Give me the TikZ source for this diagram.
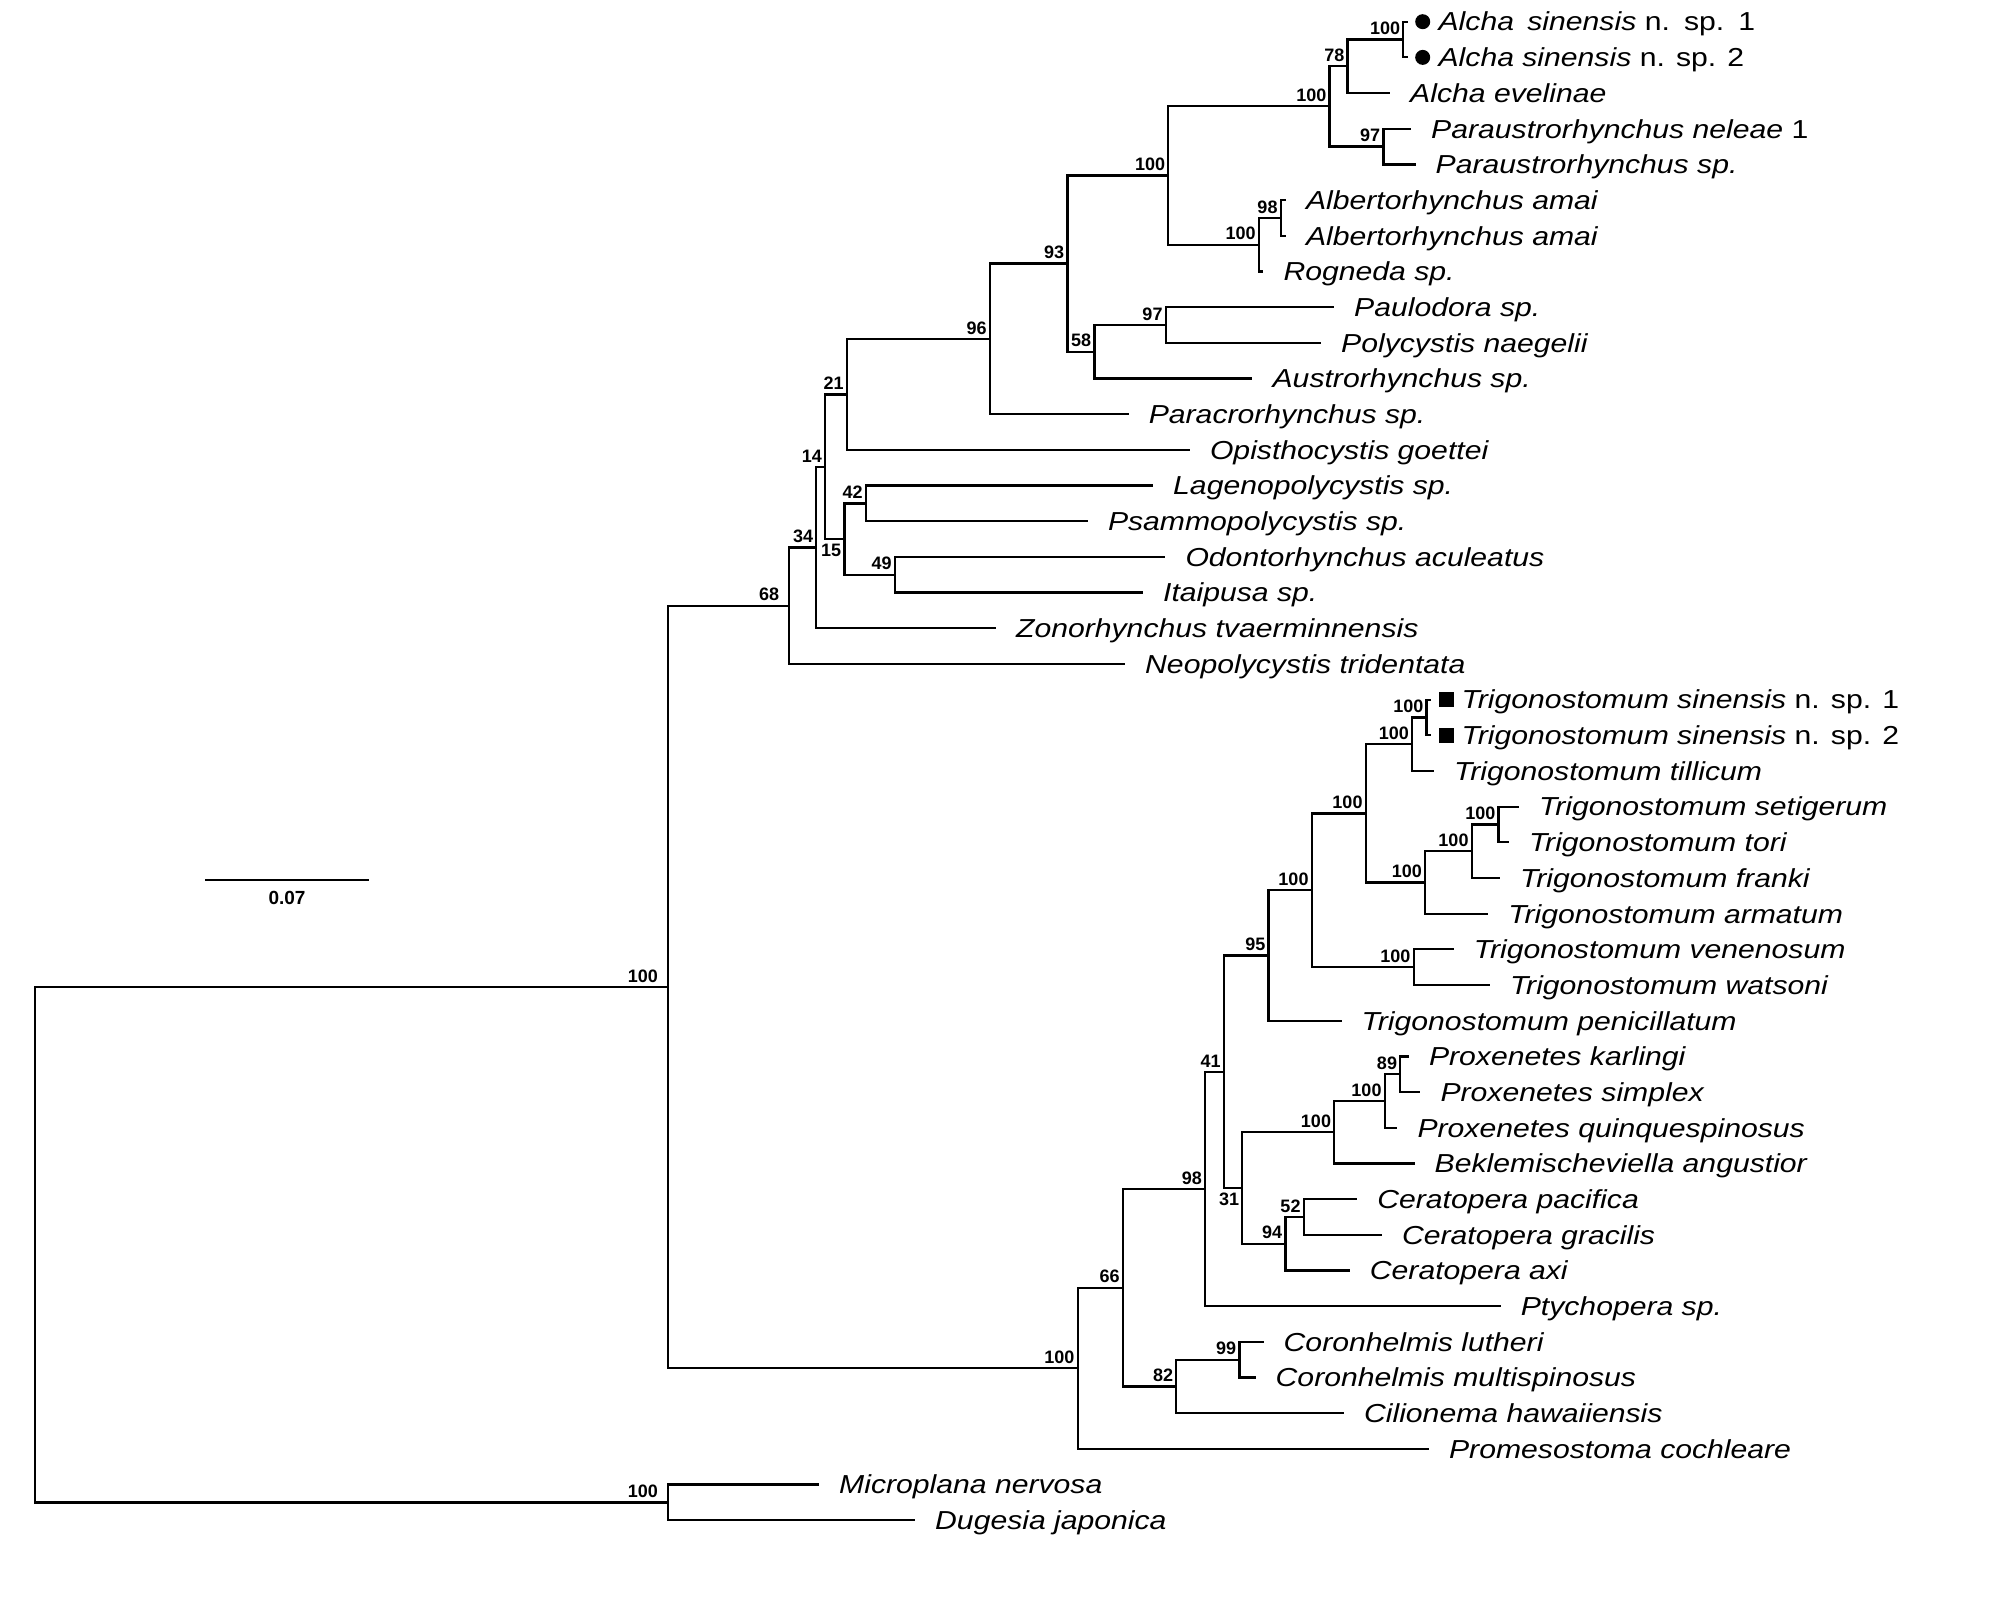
\documentclass[tikz,border=0pt]{standalone}
\usepackage{fontspec}
\setmainfont{Liberation Sans}
\newfontfamily\taxfont[FakeStretch=1.16]{Liberation Sans}
\usetikzlibrary{positioning}

\begin{document}
\begin{tikzpicture}[x=1pt,y=-1pt,
    branch/.style={line width=2.2pt},
    taxon/.style={font=\taxfont\fontsize{26}{30}\selectfont\itshape, inner sep=0pt, text height=18.6pt, text depth=0pt},
    boot/.style={font=\fontsize{18}{20}\selectfont\bfseries, anchor=south east, inner xsep=3pt, inner ysep=4.5pt},
    bootlow/.style={boot, anchor=north east},
    dotmark/.style={circle, fill=black, inner sep=0pt, minimum size=15pt},
    boxmark/.style={rectangle, fill=black, inner sep=0pt, minimum size=15pt}]
    \fill[white] (0,0) rectangle (2007,1605);
    % inner nodes of the tree
    \foreach \nd/\x/\y in {root/34.6/1244.7, ingroup/668/987, outgroup/668/1502.5,
        poly/789.3/605.7, n34/816.3/547.5, n14/825/466.7, n21/846.9/394.4,
        n96/989.8/338.9, n93/1067.4/263.6, alchalb/1168.3/175.6, alchpar/1329.5/106.4,
        alcha/1347.5/66.3, sinA/1403.3/39.6, parau/1383.4/146.6, albrog/1258.8/244.7,
        albert/1280.7/218, n58/1094.4/351.7, paulo/1165.7/325, n15/844.4/539,
        lageno/865.8/503.4, odonto/894.9/574.7,
        trigo/1077.6/1368.3, n66/1122.9/1287.8, n98/1205/1189, n41/1223.9/1071.8,
        n95/1268.5/955.5, trigA/1311.7/890.3, trigB/1365.7/813.4, trigC/1412/744.2,
        sinT/1426.5/717.5, trigD/1425/882.5, trigE/1471.7/851.3, trigF/1498.5/824.5,
        trigG/1413.6/967.3, n31/1242.3/1188, proxB/1334.2/1132.3, proxA/1384.7/1101,
        n89/1400.2/1074.3, n94/1285.4/1243.8, n52/1303.7/1217, n82/1176.3/1386.5,
        n99/1239.4/1359.8}
        \coordinate (\nd) at (\x,\y);
    % leaf tips, one row each
    \foreach \row/\tip in {1/1408, 2/1408, 3/1390, 4/1411, 5/1415.5, 6/1285.8, 7/1285.8,
        8/1263.3, 9/1334, 10/1321, 11/1252.4, 12/1128.6, 13/1189.8, 14/1153, 15/1087.8,
        16/1165.3, 17/1142.9, 18/995.9, 19/1125, 20/1431, 21/1431, 22/1434, 23/1519,
        24/1508.8, 25/1500, 26/1488.2, 27/1453.7, 28/1489.8, 29/1341.5, 30/1408.8,
        31/1420.3, 32/1397.3, 33/1414.5, 34/1357.1, 35/1381.8, 36/1349.7, 37/1500.6,
        38/1263.5, 39/1255.5, 40/1343.9, 41/1428.9, 42/819, 43/915}
        \coordinate (l\row) at (\tip,{21.7+(\row-1)*35.68});
    % branches
    \foreach \a/\b in {root/ingroup, root/outgroup, ingroup/poly, ingroup/trigo,
        poly/n34, poly/l19, n34/n14, n34/l18, n14/n21, n14/n15, n21/n96, n21/l13,
        n96/n93, n96/l12, n93/alchalb, n93/n58, alchalb/alchpar, alchalb/albrog,
        alchpar/alcha, alchpar/parau, alcha/sinA, alcha/l3, sinA/l1, sinA/l2,
        parau/l4, parau/l5, albrog/albert, albrog/l8, albert/l6, albert/l7,
        n58/paulo, n58/l11, paulo/l9, paulo/l10, n15/lageno, n15/odonto,
        lageno/l14, lageno/l15, odonto/l16, odonto/l17,
        trigo/n66, trigo/l41, n66/n98, n66/n82, n98/n41, n98/l37, n41/n95, n41/n31,
        n95/trigA, n95/l29, trigA/trigB, trigA/trigG, trigB/trigC, trigB/trigD,
        trigC/sinT, trigC/l22, sinT/l20, sinT/l21, trigD/trigE, trigD/l26,
        trigE/trigF, trigE/l25, trigF/l23, trigF/l24, trigG/l27, trigG/l28,
        n31/proxB, n31/n94, proxB/proxA, proxB/l33, proxA/n89, proxA/l32,
        n89/l30, n89/l31, n94/n52, n94/l36, n52/l34, n52/l35,
        n82/n99, n82/l40, n99/l38, n99/l39, outgroup/l42, outgroup/l43}
        \draw[branch] (\a) |- (\b);
    % support values
    \foreach \nd/\bs in {n34/34, n14/14, n21/21, n96/96, n93/93, alchalb/100,
        alchpar/100, alcha/78, sinA/100, parau/97, albrog/100, albert/98, n58/58,
        paulo/97, lageno/42, odonto/49, trigo/100, n66/66, n98/98, n41/41, n95/95,
        trigA/100, trigB/100, trigC/100, sinT/100, trigD/100, trigE/100, trigF/100,
        trigG/100, proxB/100, proxA/100, n89/89, n94/94, n52/52, n82/82, n99/99}
        \node[boot] (b\nd) at (\nd) {\bs};
    \node[bootlow] (bn15) at (n15) {15};
    \node[bootlow] (bn31) at (n31) {31};
    \foreach \nd/\bs in {ingroup/100, outgroup/100, poly/68}
        \node[boot, xshift=-7pt] (b\nd) at (\nd) {\bs};
    % taxa
    \node[dotmark, right=7pt of l1] (m1) {};
    \node[dotmark, right=7pt of l2] (m2) {};
    \node[taxon, right=8pt of m1] (t1) {Alcha\hspace{5pt} sinensis\/ \textup{n.\hspace{3pt} sp.\hspace{3pt} 1}};
    \node[taxon, right=8pt of m2] (t2) {Alcha sinensis\/ \textup{n. sp. 2}};
    \node[taxon, right=20pt of l4] (t4) {Paraustrorhynchus neleae\/ \textup{1}};
    \node[boxmark, right=8pt of l20] (m20) {};
    \node[boxmark, right=8pt of l21] (m21) {};
    \node[taxon, right=7pt of m20] (t20) {Trigonostomum sinensis\/ \textup{n. sp. 1}};
    \node[taxon, right=7pt of m21] (t21) {Trigonostomum sinensis\/ \textup{n. sp. 2}};
    \foreach \row/\name in {3/Alcha evelinae, 5/Paraustrorhynchus sp.,
        6/Albertorhynchus amai, 7/Albertorhynchus amai, 8/Rogneda sp.,
        9/Paulodora sp., 10/Polycystis naegelii, 11/Austrorhynchus sp.,
        12/Paracrorhynchus sp., 13/Opisthocystis goettei, 14/Lagenopolycystis sp.,
        15/Psammopolycystis sp., 16/Odontorhynchus aculeatus, 17/Itaipusa sp.,
        18/Zonorhynchus tvaerminnensis, 19/Neopolycystis tridentata,
        22/Trigonostomum tillicum, 23/Trigonostomum setigerum, 24/Trigonostomum tori,
        25/Trigonostomum franki, 26/Trigonostomum armatum, 27/Trigonostomum venenosum,
        28/Trigonostomum watsoni, 29/Trigonostomum penicillatum, 30/Proxenetes karlingi,
        31/Proxenetes simplex, 32/Proxenetes quinquespinosus,
        33/Beklemischeviella angustior, 34/Ceratopera pacifica, 35/Ceratopera gracilis,
        36/Ceratopera axi, 37/Ptychopera sp., 38/Coronhelmis lutheri,
        39/Coronhelmis multispinosus, 40/Cilionema hawaiiensis,
        41/Promesostoma cochleare, 42/Microplana nervosa, 43/Dugesia japonica}
        \node[taxon, right=20pt of l\row] (t\row) {\name};
    % scale bar
    \coordinate (sb0) at (205,879.8);
    \coordinate (sb1) at (369,879.8);
    \draw[branch] (sb0) -- (sb1);
    \node[font=\fontsize{19}{21}\selectfont\bfseries] (sbl) at (287,897.7) {0.07};
\end{tikzpicture}
\end{document}
